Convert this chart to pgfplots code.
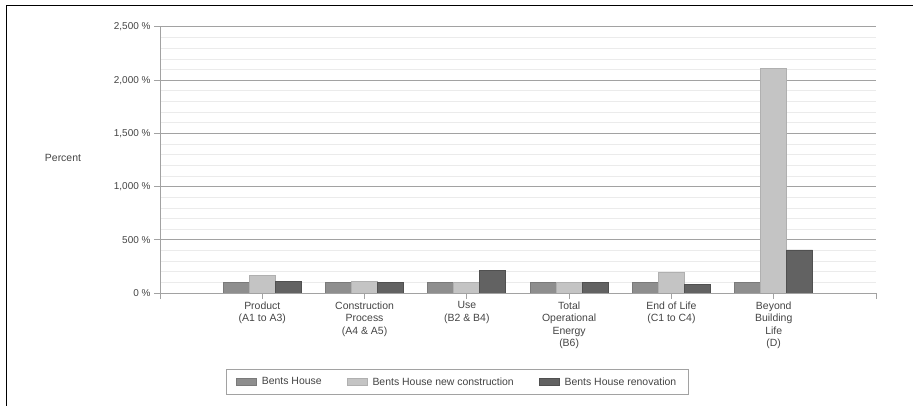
\documentclass[border=0pt]{standalone}
\usepackage{fontspec}
\setmainfont{Liberation Sans}
\usepackage{pgfplots}
\pgfplotsset{compat=1.18}
\definecolor{cA}{HTML}{8E8E8E}
\definecolor{cAd}{HTML}{7A7A7A}
\definecolor{cB}{HTML}{C4C4C4}
\definecolor{cBd}{HTML}{B0B0B0}
\definecolor{cC}{HTML}{626262}
\definecolor{cCd}{HTML}{505050}
\definecolor{txt}{HTML}{444444}
\definecolor{majg}{HTML}{A2A2A2}
\definecolor{ming}{HTML}{EBEBEB}
\pgfplotsset{mylegend/.style={legend image code/.code={\draw[##1] (0bp,-3.5bp) rectangle (20bp,3.5bp);}}}
\begin{document}
\begin{tikzpicture}
\useasboundingbox (0,0) rectangle (913bp,406bp);
\draw[line width=1.6bp, black] (6.5bp,0) -- (6.5bp,400.5bp) -- (913bp,400.5bp);
\begin{axis}[
  at={(160bp,113bp)}, anchor=south west,
  width=716bp, height=266bp, scale only axis,
  xmin=-1, xmax=6, ymin=0, ymax=2500,
  axis x line*=bottom, axis y line*=left,
  axis line style={color=majg, line width=1bp},
  xtick={-1,0,1,2,3,4,5,6},
  xticklabels={,{Product\\(A1 to A3)},{Construction\\Process\\(A4 \& A5)},{Use\\(B2 \& B4)},{Total\\Operational\\Energy\\(B6)},{End of Life\\(C1 to C4)},{Beyond\\Building\\Life\\(D)},},
  ytick={0,500,1000,1500,2000,2500},
  yticklabels={0 \%,500 \%,{1,000 \%},{1,500 \%},{2,000 \%},{2,500 \%}},
  minor y tick num=4,
  tick align=outside,
  major tick length=6bp,
  minor tick length=0bp,
  tick style={color=majg, line width=1bp},
  ymajorgrids, yminorgrids,
  major grid style={color=majg, line width=1bp},
  minor grid style={color=ming, line width=0.7bp},
  x tick label style={align=center, font=\fontsize{10.5}{12.5}\selectfont, text=txt, inner sep=2.5bp},
  y tick label style={font=\fontsize{10}{12}\selectfont, text=txt},
  ylabel={Percent},
  ylabel style={rotate=-90, at={(axis description cs:-0.1355,0.5075)}, anchor=center, font=\fontsize{10.5}{12}\selectfont, text=txt},
  ybar=0pt, bar width=26bp,
  legend columns=3,
  legend style={at={(0.415,-0.335)}, anchor=center, draw=majg, line width=1bp,
    font=\fontsize{10.5}{12}\selectfont, text=txt, inner xsep=10bp, inner ysep=6bp,
    /tikz/every odd column/.append style={column sep=3bp},
    /tikz/every even column/.append style={column sep=23bp}},
]
\addplot[fill=cA, draw=cAd, line width=0.8bp, mylegend] coordinates {(0,100) (1,100) (2,100) (3,100) (4,100) (5,100)};
\addplot[fill=cB, draw=cBd, line width=0.8bp, mylegend] coordinates {(0,163) (1,110) (2,100) (3,100) (4,190) (5,2108)};
\addplot[fill=cC, draw=cCd, line width=0.8bp, mylegend] coordinates {(0,110) (1,100) (2,213) (3,100) (4,82) (5,405)};
\legend{Bents House, Bents House new construction, Bents House renovation}
\end{axis}
\end{tikzpicture}
\end{document}
